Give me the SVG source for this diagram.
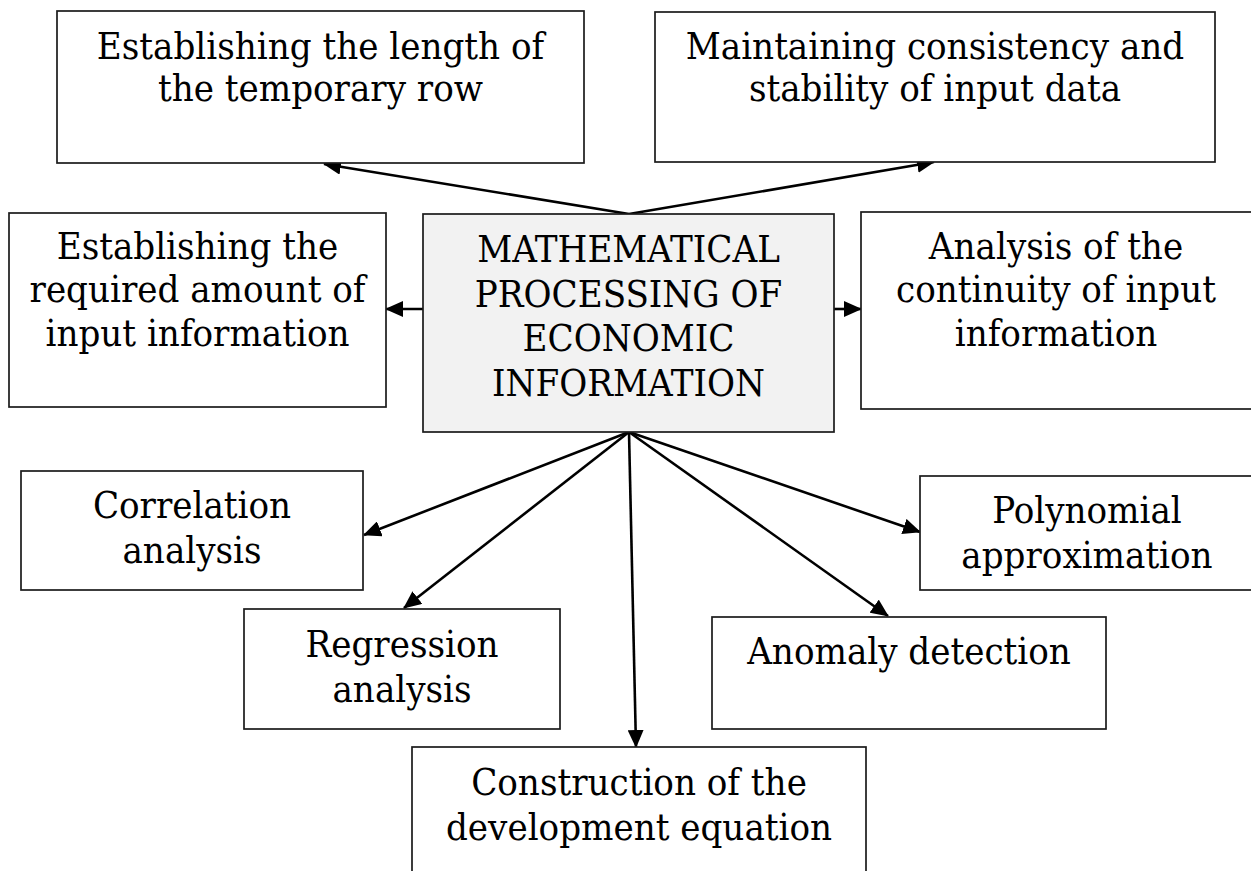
<svg xmlns="http://www.w3.org/2000/svg" width="1251" height="871" viewBox="0 0 1251 871">
  <style>
    .box { fill: #ffffff; stroke: #1a1a1a; stroke-width: 1.7; }
    .core { fill: #f2f2f2; stroke: #1a1a1a; stroke-width: 1.7; }
    .lbl { font-family: "DejaVu Serif Condensed", "DejaVu Serif", "Liberation Serif", serif; font-stretch: semi-condensed; font-size: 38px; fill: #000000; text-anchor: middle; }
    .link { fill: none; stroke: #000000; stroke-width: 2.6; marker-end: url(#head); }
  </style>
  <defs>
    <marker id="head" markerUnits="userSpaceOnUse" markerWidth="19" markerHeight="16" refX="17" refY="8" orient="auto">
      <path d="M0,0 L18,8 L0,16 Z" fill="#000000"/>
    </marker>
  </defs>
  <rect width="1251" height="871" fill="#ffffff"/>

  <!-- connectors: everything radiates from the central box -->
  <g id="connectors">
    <line class="link" x1="629" y1="214" x2="324" y2="164"/>
    <line class="link" x1="629" y1="214" x2="934" y2="162"/>
    <line class="link" x1="423" y1="309" x2="386" y2="309"/>
    <line class="link" x1="834" y1="309" x2="861" y2="309"/>
    <line class="link" x1="629" y1="432" x2="364" y2="535"/>
    <line class="link" x1="629" y1="432" x2="404" y2="608"/>
    <line class="link" x1="629" y1="432" x2="636" y2="747"/>
    <line class="link" x1="629" y1="432" x2="888" y2="616"/>
    <line class="link" x1="629" y1="432" x2="920" y2="532"/>
  </g>

  <g id="node-series-length">
    <rect class="box" x="57" y="11" width="527" height="152"/>
    <text class="lbl" x="320.5" y="59">Establishing the length of</text>
    <text class="lbl" x="320.5" y="101">the temporary row</text>
  </g>

  <g id="node-consistency">
    <rect class="box" x="655" y="12" width="560" height="150"/>
    <text class="lbl" x="935" y="59">Maintaining consistency and</text>
    <text class="lbl" x="935" y="101">stability of input data</text>
  </g>

  <g id="node-amount">
    <rect class="box" x="9" y="213" width="377" height="194"/>
    <text class="lbl" x="197.5" y="259">Establishing the</text>
    <text class="lbl" x="197.5" y="302">required amount of</text>
    <text class="lbl" x="197.5" y="346">input information</text>
  </g>

  <g id="node-center">
    <rect class="core" x="423" y="214" width="411" height="218"/>
    <text class="lbl" x="628.5" y="262">MATHEMATICAL</text>
    <text class="lbl" x="628.5" y="307">PROCESSING OF</text>
    <text class="lbl" x="628.5" y="351">ECONOMIC</text>
    <text class="lbl" x="628.5" y="396">INFORMATION</text>
  </g>

  <g id="node-continuity">
    <rect class="box" x="861" y="212" width="391" height="197"/>
    <text class="lbl" x="1056" y="259">Analysis of the</text>
    <text class="lbl" x="1056" y="302">continuity of input</text>
    <text class="lbl" x="1056" y="346">information</text>
  </g>

  <g id="node-correlation">
    <rect class="box" x="21" y="471" width="342" height="119"/>
    <text class="lbl" x="192" y="518">Correlation</text>
    <text class="lbl" x="192" y="563">analysis</text>
  </g>

  <g id="node-polynomial">
    <rect class="box" x="920" y="476" width="332" height="114"/>
    <text class="lbl" x="1087" y="523">Polynomial</text>
    <text class="lbl" x="1087" y="568">approximation</text>
  </g>

  <g id="node-regression">
    <rect class="box" x="244" y="609" width="316" height="120"/>
    <text class="lbl" x="402" y="657">Regression</text>
    <text class="lbl" x="402" y="702">analysis</text>
  </g>

  <g id="node-anomaly">
    <rect class="box" x="712" y="617" width="394" height="112"/>
    <text class="lbl" x="909" y="664">Anomaly detection</text>
  </g>

  <g id="node-equation">
    <rect class="box" x="412" y="747" width="454" height="150"/>
    <text class="lbl" x="639" y="795">Construction of the</text>
    <text class="lbl" x="639" y="840">development equation</text>
  </g>
</svg>
